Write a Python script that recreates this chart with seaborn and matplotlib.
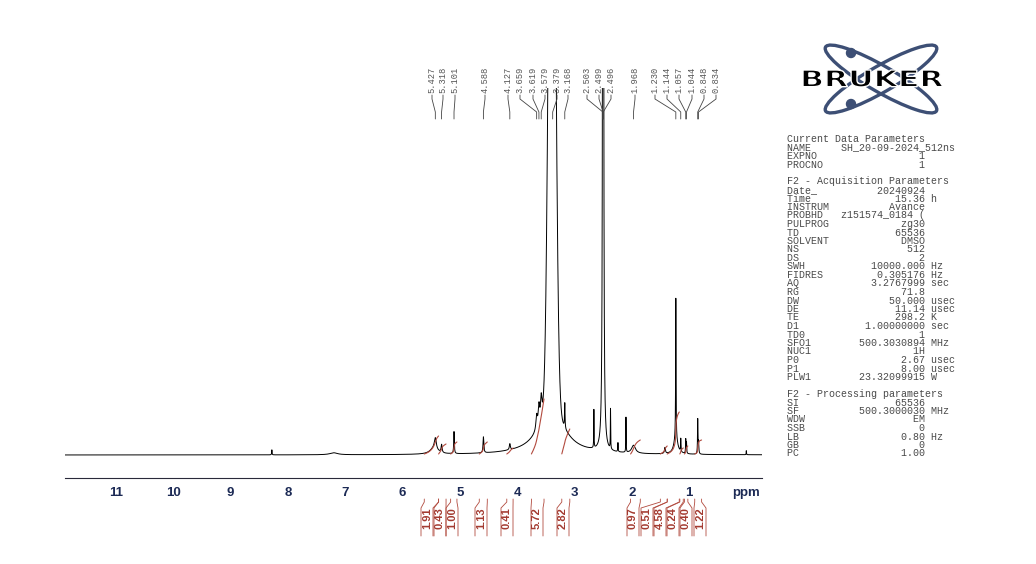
import numpy as np
import pandas as pd
import matplotlib.pyplot as plt
import seaborn as sns
from matplotlib.patches import Ellipse, Circle, PathPatch
from matplotlib.textpath import TextPath
from matplotlib.font_manager import FontProperties
from matplotlib.transforms import Affine2D, blended_transform_factory
from matplotlib.ticker import MultipleLocator

# peak list: centre (ppm), height above baseline, half width (ppm)
peak_ppm = [8.28, 7.20, 5.45, 5.427, 5.318, 5.101, 4.588, 4.127,
            3.659, 3.619, 3.579, 3.40, 3.168,
            2.66, 2.499, 2.37, 2.24, 2.10, 1.968, 1.42,
            1.230, 1.23, 1.144, 1.057, 1.044, 0.848, 0.834, 0.0]
peak_height = [5, 2, 6, 11, 8, 22, 16, 6,
               14, 20, 24, 50, 25,
               38, 4000, 40, 9, 35, 8, 6,
               140, 16, 13, 14, 11, 34, 12, 4]
peak_hw = [0.004, 0.08, 0.08, 0.02, 0.01, 0.006, 0.008, 0.01,
           0.015, 0.015, 0.015, 0.25, 0.005,
           0.003, 0.004, 0.003, 0.004, 0.003, 0.04, 0.01,
           0.004, 0.04, 0.004, 0.004, 0.004, 0.004, 0.006, 0.003]
# broad water signal (gaussian)
water_ppm = [3.39]
water_height = [800]
water_sigma = [0.055]

# labelled peaks
label_values = ["5.427", "5.318", "5.101", "4.588", "4.127", "3.659", "3.619", "3.579",
                "3.379", "3.168", "2.503", "2.499", "2.496", "1.968", "1.230", "1.144",
                "1.057", "1.044", "0.848", "0.834"]

# integrals
integral_values = ["1.91", "0.43", "1.00", "1.13", "0.41", "5.72", "2.82",
                   "0.97", "0.51", "4.58", "0.24", "0.40", "1.22"]
integral_start = [5.62, 5.37, 5.16, 4.66, 4.18, 3.75, 3.22, 2.02, 1.50, 1.38, 1.16, 1.08, 0.90]
integral_end = [5.37, 5.24, 5.05, 4.52, 4.07, 3.53, 3.08, 1.85, 1.38, 1.17, 1.10, 1.02, 0.78]
integral_rise = [18, 10, 12, 12, 6, 55, 25, 14, 8, 42, 6, 8, 14]

params = [
    ("Current Data Parameters", None, None),
    ("NAME", "SH_20-09-2024_512ns", ""),
    ("EXPNO", "1", ""),
    ("PROCNO", "1", ""),
    ("", None, None),
    ("F2 - Acquisition Parameters", None, None),
    ("Date_", "20240924", ""),
    ("Time", "15.36", "h"),
    ("INSTRUM", "Avance", ""),
    ("PROBHD", "z151574_0184 (", ""),
    ("PULPROG", "zg30", ""),
    ("TD", "65536", ""),
    ("SOLVENT", "DMSO", ""),
    ("NS", "512", ""),
    ("DS", "2", ""),
    ("SWH", "10000.000", "Hz"),
    ("FIDRES", "0.305176", "Hz"),
    ("AQ", "3.2767999", "sec"),
    ("RG", "71.8", ""),
    ("DW", "50.000", "usec"),
    ("DE", "11.14", "usec"),
    ("TE", "298.2", "K"),
    ("D1", "1.00000000", "sec"),
    ("TD0", "1", ""),
    ("SFO1", "500.3030894", "MHz"),
    ("NUC1", "1H", ""),
    ("P0", "2.67", "usec"),
    ("P1", "8.00", "usec"),
    ("PLW1", "23.32099915", "W"),
    ("", None, None),
    ("F2 - Processing parameters", None, None),
    ("SI", "65536", ""),
    ("SF", "500.3000030", "MHz"),
    ("WDW", "EM", ""),
    ("SSB", "0", ""),
    ("LB", "0.80", "Hz"),
    ("GB", "0", ""),
    ("PC", "1.00", ""),
]

# layout (pixel positions of labels in the picture)
W, H = 1036, 564
label_px = [432, 443, 455, 485, 508, 520, 533, 545, 557, 568, 587, 599, 611,
            635, 655, 667, 679, 692, 704, 716]
integral_label_px = [427, 440, 452, 481, 507, 537, 563, 633, 647, 660, 673, 686, 700]

sns.set_style("white")
plt.rcParams['font.family'] = ['Liberation Sans', 'DejaVu Sans']

# build spectrum from peak list
ppm = np.linspace(11.89, -0.274, 30000)
spec = np.zeros_like(ppm)
for c, h, w in zip(peak_ppm, peak_height, peak_hw):
    spec += h * w ** 2 / (w ** 2 + (ppm - c) ** 2)
for c, h, s in zip(water_ppm, water_height, water_sigma):
    spec += h * np.exp(-(ppm - c) ** 2 / (2 * s ** 2))
df = pd.DataFrame({"ppm": ppm, "intensity": spec})

fig = plt.figure(figsize=(W / 100, H / 100), dpi=100)
ax = fig.add_axes([65 / W, 1 - 477.7 / H, (762 - 65) / W, (477.7 - 88) / H])
sns.lineplot(data=df, x="ppm", y="intensity", ax=ax, color="black", lw=0.7,
             estimator=None, sort=False)
ax.set_xlim(11.89, -0.274)
ax.set_ylim(-22.7, 367)
ax.set_xlabel("")
ax.set_ylabel("")
ax.set_yticks([])
for s in ["top", "left", "right"]:
    ax.spines[s].set_visible(False)
ax.spines["bottom"].set_color("#2a2a3a")
ax.spines["bottom"].set_linewidth(0.8)
ax.set_xticks(range(0, 12))
ax.set_xticklabels(["ppm" if t == 0 else str(t) for t in range(0, 12)],
                   fontsize=9.5, fontweight="bold", color="#1c2a55")
ax.xaxis.set_minor_locator(MultipleLocator(0.1))
ax.tick_params(axis="x", which="major", length=5, width=0.8, color="#2a2a3a", pad=2)
ax.tick_params(axis="x", which="minor", length=3, width=0.6, direction="inout", color="#2a2a3a")

# integral traces
red = "#b24a3e"
for a, b, r in zip(integral_start, integral_end, integral_rise):
    m = (ppm <= a) & (ppm >= b)
    cum = np.cumsum(spec[m])
    cum = cum / cum[-1] * r
    ax.plot(ppm[m], cum + 1, color=red, lw=0.8)

fig.canvas.draw()
inv = ax.transData.inverted()


def px_to_ppm(xp):
    return inv.transform((xp, 0))[0]


def fy(y):
    return 1 - y / H


tr = blended_transform_factory(ax.transData, fig.transFigure)

# peak labels at top
for lab, xp in zip(label_values, label_px):
    lx = px_to_ppm(xp)
    pk = float(lab)
    ax.text(lx, fy(93), lab, rotation=90, ha="center", va="bottom", transform=tr,
            family="Liberation Mono", fontsize=6.3, color="#555555", clip_on=False)
    ax.plot([lx, lx, pk, pk], [fy(95), fy(99), fy(112), fy(119)], transform=tr,
            color="#444444", lw=0.6, clip_on=False)

# integral labels below axis
dx = 6 / 57.3
for lab, xp, a, b in zip(integral_values, integral_label_px, integral_start, integral_end):
    lx = px_to_ppm(xp)
    ax.text(lx, fy(518), lab, rotation=90, ha="center", va="center", transform=tr,
            family=["Liberation Sans Narrow", "Liberation Sans"], fontsize=8,
            fontweight="bold", color="#a33a30", clip_on=False)
    ax.plot([lx + dx, lx + dx, a, a], [fy(536), fy(508), fy(502), fy(499)], transform=tr,
            color=red, lw=0.6, clip_on=False)
    ax.plot([lx - dx, lx - dx, b, b], [fy(536), fy(508), fy(502), fy(499)], transform=tr,
            color=red, lw=0.6, clip_on=False)

# Bruker logo
lax = fig.add_axes([795 / W, 1 - 125 / H, 160 / W, 90 / H])
lax.set_xlim(795, 955)
lax.set_ylim(125, 35)
lax.axis("off")
logo_blue = "#3d4f75"
for ang in (30, -30):
    lax.add_patch(Ellipse((881, 79), 128, 26, angle=ang, fill=False, ec=logo_blue, lw=2.4))
lax.add_patch(Circle((851, 53), 4.5, color=logo_blue))
lax.add_patch(Circle((851, 104), 4.5, color=logo_blue))
tp = TextPath((0, 0), "BRUKER", size=1, prop=FontProperties(family="DejaVu Sans", weight="bold"))
ext = tp.get_extents()
t = (Affine2D().translate(-ext.x0, -ext.y0)
     .scale(140 / ext.width, -17 / ext.height).translate(803, 87))
lax.add_patch(PathPatch(t.transform_path(tp), fc="black", ec="white", lw=1.0))

# parameter block
for i, (key, val, unit) in enumerate(params):
    if val is None:
        line = key
    else:
        line = f"{key:<9}{val:>14}" + (f" {unit}" if unit else "")
    fig.text(787 / W, fy(139 + 8.5 * i), line, family="Liberation Mono", fontsize=7.2,
             color="#4a4a4a", va="center", ha="left")

fig.savefig("out.png", dpi=100)
